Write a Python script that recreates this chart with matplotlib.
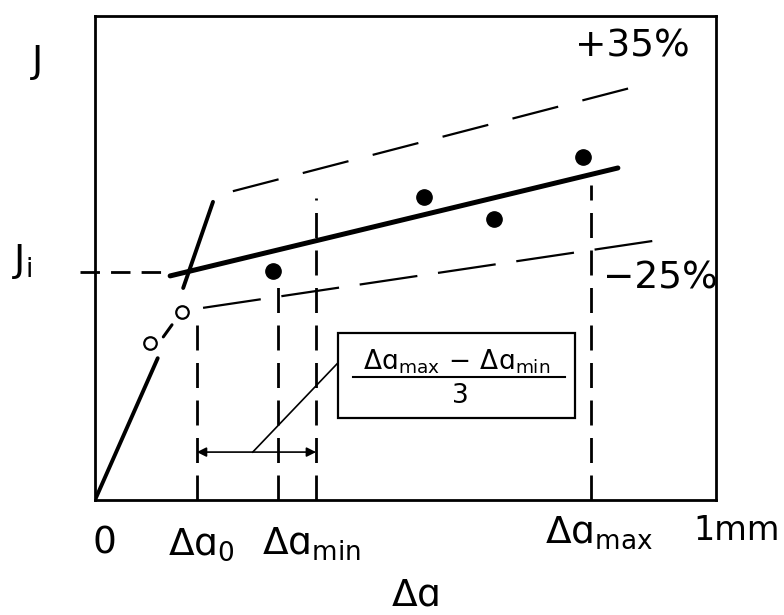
import matplotlib
matplotlib.use("Agg")
import matplotlib.pyplot as plt
from matplotlib.patches import Rectangle

plt.rcParams['font.family'] = ['DejaVu Sans']
plt.rcParams['mathtext.fontset'] = 'custom'
plt.rcParams['mathtext.rm'] = 'DejaVu Sans'
plt.rcParams['mathtext.it'] = 'DejaVu Sans'
plt.rcParams['lines.scale_dashes'] = False

# ---- data (Δa in mm, J in relative units) ----
blunt_lower_x = [0.0, 0.101]
blunt_lower_J = [0.0, 0.293]
blunt_mid_x = [0.110, 0.124]
blunt_mid_J = [0.337, 0.362]
blunt_upper_x = [0.142, 0.190]
blunt_upper_J = [0.438, 0.616]

open_x = [0.089, 0.140]
open_J = [0.324, 0.388]

filled_x = [0.287, 0.530, 0.643, 0.786]
filled_J = [0.473, 0.626, 0.581, 0.709]

fit_x = [0.121, 0.842]
fit_J = [0.463, 0.686]
upper_x = [0.222, 0.873]
upper_J = [0.638, 0.855]
lower_x = [0.174, 0.918]
lower_J = [0.397, 0.539]

Ji_value = 0.471
Ji_x = [-0.024, 0.121]

vert_x = [0.164, 0.295, 0.356, 0.799]
vert_top = [0.362, 0.450, 0.624, 0.651]

arrow_J = 0.099
arrow_x = [0.164, 0.356]
leader_x = [0.391, 0.254]
leader_J = [0.283, 0.099]
box_x = [0.391, 0.773]
box_J = [0.169, 0.345]

FS = 27

fig = plt.figure(figsize=(7.84, 6.15), dpi=100)
ax = fig.add_axes([95/784, (615-500)/615, 621/784, 484/615])
ax.set_xlim(0, 1)
ax.set_ylim(0, 1)
ax.set_xticks([])
ax.set_yticks([])
for s in ax.spines.values():
    s.set_linewidth(2.0)

# blunting line
ax.plot(blunt_lower_x, blunt_lower_J, color='black', lw=2.8, solid_capstyle='round')
ax.plot(blunt_mid_x, blunt_mid_J, color='black', lw=2.2, solid_capstyle='round')
ax.plot(blunt_upper_x, blunt_upper_J, color='black', lw=2.8, solid_capstyle='round')

# regression line and bounds
ax.plot(fit_x, fit_J, color='black', lw=3.6, solid_capstyle='round')
ax.plot(upper_x, upper_J, color='black', lw=1.6, dashes=(34, 18))
ax.plot(lower_x, lower_J, color='black', lw=1.6, dashes=(42, 15))

# Ji dashed line
ax.plot(Ji_x, [Ji_value, Ji_value], color='black', lw=2.0, dashes=(14, 8), clip_on=False)

# vertical dashed lines
for vx, vt in zip(vert_x, vert_top):
    ax.plot([vx, vx], [0, vt], color='black', lw=2.0, dashes=(18, 9))

# points
ax.plot(open_x, open_J, 'o', mfc='white', mec='black', mew=1.6, ms=9, ls='none')
ax.plot(filled_x, filled_J, 'o', color='black', ms=11, ls='none')

# double arrow and leader
ax.annotate('', xy=(arrow_x[0], arrow_J), xytext=(arrow_x[1], arrow_J),
            arrowprops=dict(arrowstyle='<|-|>', color='black', lw=1.2,
                            mutation_scale=14, shrinkA=0, shrinkB=0))
ax.plot(leader_x, leader_J, color='black', lw=1.2)

# box with fraction
ax.add_patch(Rectangle((box_x[0], box_J[0]), box_x[1]-box_x[0], box_J[1]-box_J[0],
                       fill=False, ec='black', lw=1.6))
ax.text(0.582, 0.285, r'$\Delta\mathrm{ɑ}_{\mathrm{max}}\,-\,\Delta\mathrm{ɑ}_{\mathrm{min}}$',
        fontsize=19, ha='center', va='center')
ax.plot([0.415, 0.757], [0.254, 0.254], color='black', lw=1.5)
ax.text(0.588, 0.215, '3', fontsize=19, ha='center', va='center')

# labels
kw = dict(clip_on=False, transform=ax.transData)
ax.text(-0.092, 0.905, 'J', ha='center', va='center', fontsize=FS, **kw)
ax.text(-0.134, 0.492, r'$\mathrm{J}_{\mathrm{i}}$', ha='left', va='center', fontsize=FS, **kw)
ax.text(0.773, 0.936, '+35%', ha='left', va='center', fontsize=FS, **kw)
ax.text(0.818, 0.457, '\u221225%', ha='left', va='center', fontsize=FS, **kw)
ax.text(0.0145, -0.089, '0', ha='center', va='center', fontsize=FS, **kw)
ax.text(0.118, -0.114, r'$\Delta\mathrm{ɑ}_{\mathrm{0}}$', ha='left', va='baseline', fontsize=FS, **kw)
ax.text(0.269, -0.114, r'$\Delta\mathrm{ɑ}_{\mathrm{min}}$', ha='left', va='baseline', fontsize=FS, **kw)
ax.text(0.725, -0.089, r'$\Delta\mathrm{ɑ}_{\mathrm{max}}$', ha='left', va='baseline', fontsize=FS, **kw)
ax.text(0.963, -0.083, '1mm', ha='left', va='baseline', fontsize=24, **kw)
ax.text(0.515, -0.218, r'$\Delta\mathrm{ɑ}$', ha='center', va='baseline', fontsize=FS, **kw)

fig.savefig('out.png', dpi=100)
